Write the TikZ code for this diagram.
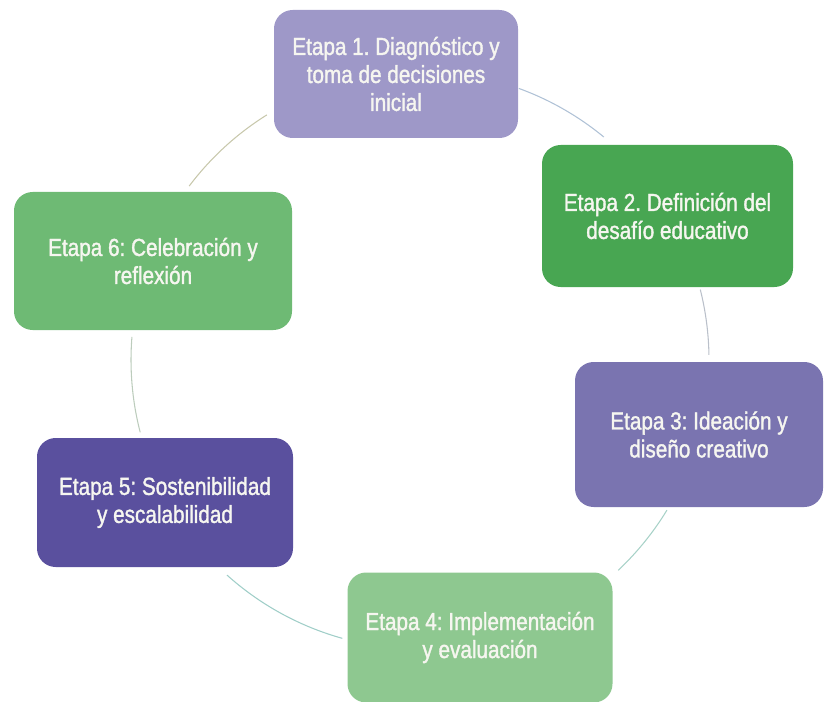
\documentclass[tikz,border=0pt]{standalone}
\usepackage{fontspec}
\newfontfamily\stagefont[FakeStretch=0.84,FakeBold=1.4]{Liberation Sans}
\frenchspacing

\definecolor{stageA}{RGB}{158,152,200}
\definecolor{stageB}{RGB}{72,166,82}
\definecolor{stageC}{RGB}{122,116,176}
\definecolor{stageD}{RGB}{142,200,144}
\definecolor{stageE}{RGB}{90,80,158}
\definecolor{stageF}{RGB}{110,186,116}
\definecolor{stagetxt}{RGB}{246,246,240}
\definecolor{linkAB}{RGB}{176,194,214}
\definecolor{linkBC}{RGB}{186,192,202}
\definecolor{linkCD}{RGB}{168,210,200}
\definecolor{linkDE}{RGB}{160,206,200}
\definecolor{linkEF}{RGB}{188,204,188}
\definecolor{linkFA}{RGB}{200,200,172}

\tikzset{every picture/.style={line width=0.75pt}}
\tikzset{
  stage/.style={rounded corners=14pt, align=center, inner sep=0pt, text=stagetxt,
    font={\stagefont\fontsize{18.5}{21}\selectfont\frenchspacing}},
  link/.style={line width=0.8pt}
}

\begin{document}
\begin{tikzpicture}[x=0.75pt,y=0.75pt,yscale=-1,xscale=1]
\useasboundingbox (0,0) rectangle (824,702);

%Shape: Rounded Rectangles
\node[stage, fill=stageA, minimum width=183pt, minimum height=96pt] (etapa1) at (396,74) {Etapa 1. Diagnóstico y\\toma de decisiones\\inicial};
\node[stage, fill=stageB, minimum width=188.25pt, minimum height=106.5pt] (etapa2) at (667.5,216) {Etapa 2. Definición del\\desafío educativo};
\node[stage, fill=stageC, minimum width=186pt, minimum height=108.75pt] (etapa3) at (699,434.5) {Etapa 3: Ideación y\\diseño creativo};
\node[stage, fill=stageD, minimum width=198.75pt, minimum height=97.5pt] (etapa4) at (480,637.5) {Etapa 4: Implementación\\y evaluación};
\node[stage, fill=stageE, minimum width=192pt, minimum height=96.75pt] (etapa5) at (165,502.5) {Etapa 5: Sostenibilidad\\y escalabilidad};
\node[stage, fill=stageF, minimum width=208.5pt, minimum height=103.5pt] (etapa6) at (153,261) {Etapa 6: Celebración y\\reflexión};

%Cycle centre and arc starts
\coordinate (ctr) at (420,360);
\coordinate (arcAB) at ([shift={(-70:289)}]ctr);
\coordinate (arcBC) at ([shift={(-14.1:289)}]ctr);
\coordinate (arcCD) at ([shift={(31.3:289)}]ctr);
\coordinate (arcDE) at ([shift={(105.6:289)}]ctr);
\coordinate (arcEF) at ([shift={(165.5:289)}]ctr);
\coordinate (arcFA) at ([shift={(217:289)}]ctr);

%Arcs
\draw[link, linkAB] (arcAB) arc[start angle=-70, end angle=-50.5, radius=289];
\draw[link, linkBC] (arcBC) arc[start angle=-14.1, end angle=-1, radius=289];
\draw[link, linkCD] (arcCD) arc[start angle=31.3, end angle=46.7, radius=289];
\draw[link, linkDE] (arcDE) arc[start angle=105.6, end angle=131.9, radius=289];
\draw[link, linkEF] (arcEF) arc[start angle=165.5, end angle=184.6, radius=289];
\draw[link, linkFA] (arcFA) arc[start angle=217, end angle=238, radius=289];

\end{tikzpicture}
\end{document}
